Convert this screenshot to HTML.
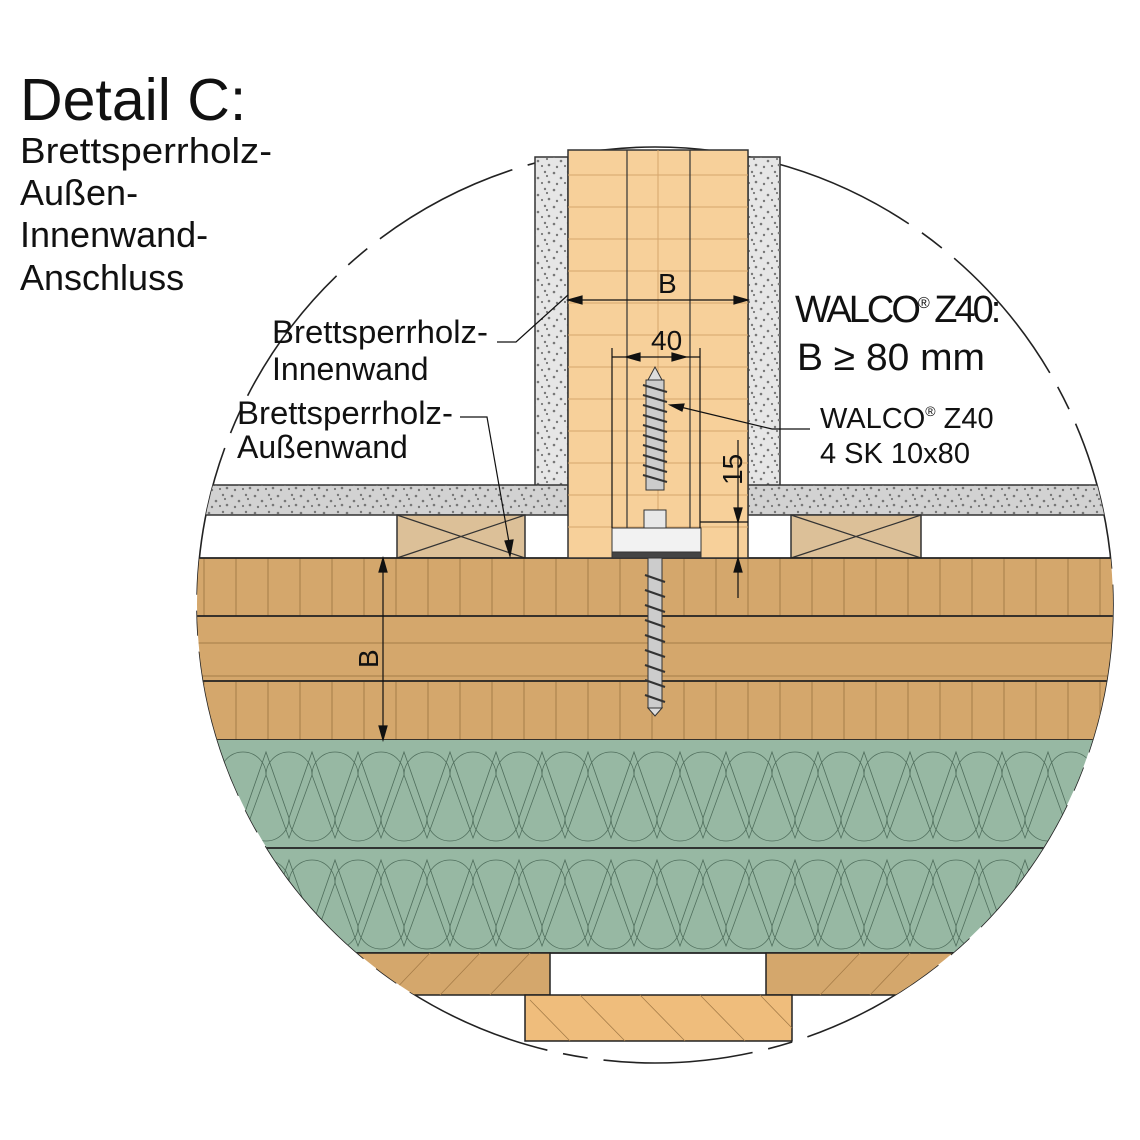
<!DOCTYPE html>
<html><head><meta charset="utf-8"><style>
body{margin:0;background:#fff}
svg{display:block}
text{font-family:"Liberation Sans",sans-serif;fill:#111}
</style></head><body>
<svg width="1140" height="1140" viewBox="0 0 1140 1140">
<defs>
<pattern id="dots" width="23" height="17" patternUnits="userSpaceOnUse">
<circle cx="2" cy="3" r="1.3" fill="#777"/><circle cx="9" cy="8" r="1.3" fill="#777"/>
<circle cx="16" cy="2" r="1.2" fill="#777"/><circle cx="20" cy="12" r="1.3" fill="#777"/>
<circle cx="5" cy="14" r="1.2" fill="#777"/><circle cx="13" cy="13" r="1.1" fill="#777"/>
<circle cx="18" cy="6" r="1.1" fill="#777"/>
</pattern>
<pattern id="ins" x="220" y="740" width="46" height="107" patternUnits="userSpaceOnUse">
<rect width="46" height="107" fill="#97b8a3"/>
<g fill="none" stroke="#4f6e5c" stroke-width="0.8">
<path d="M0,35 A23,23 0 0 1 46,35 L23,98 Z"/>
<path d="M-23,78 A23,23 0 0 0 23,78 L0,12 Z"/>
<path d="M23,78 A23,23 0 0 0 69,78 L46,12 Z"/>
<path d="M-46,35 A23,23 0 0 1 0,35 L-23,98 Z"/>
</g>
</pattern>
<pattern id="ins2" x="243" y="848" width="46" height="107" patternUnits="userSpaceOnUse">
<rect width="46" height="107" fill="#97b8a3"/>
<g fill="none" stroke="#4f6e5c" stroke-width="0.8">
<path d="M0,35 A23,23 0 0 1 46,35 L23,98 Z"/>
<path d="M-23,78 A23,23 0 0 0 23,78 L0,12 Z"/>
<path d="M23,78 A23,23 0 0 0 69,78 L46,12 Z"/>
<path d="M-46,35 A23,23 0 0 1 0,35 L-23,98 Z"/>
</g>
</pattern>
<clipPath id="cc"><circle cx="655" cy="605" r="458"/></clipPath>
</defs>

<circle cx="655" cy="605" r="458" fill="none" stroke="#222" stroke-width="1.6" stroke-dasharray="150,16,25,16"/>

<rect x="535" y="157" width="33" height="333" fill="#e6e6e6" stroke="#333" stroke-width="1.5"/>
<rect x="535" y="157" width="33" height="333" fill="url(#dots)"/>
<rect x="748" y="157" width="32" height="333" fill="#e6e6e6" stroke="#333" stroke-width="1.5"/>
<rect x="748" y="157" width="32" height="333" fill="url(#dots)"/>

<g clip-path="url(#cc)">
<rect x="190" y="485" width="378" height="30" fill="#d2d2d2" stroke="#333" stroke-width="1.5"/>
<rect x="190" y="485" width="378" height="30" fill="url(#dots)"/>
<rect x="748" y="485" width="362" height="30" fill="#d2d2d2" stroke="#333" stroke-width="1.5"/>
<rect x="748" y="485" width="362" height="30" fill="url(#dots)"/>
<g fill="#dcc098" stroke="#333" stroke-width="1.5">
<rect x="397" y="515" width="128" height="43"/><rect x="791" y="515" width="130" height="43"/>
</g>
<path d="M397,515L525,558M525,515L397,558M791,515L921,558M921,515L791,558" stroke="#333" stroke-width="1.2"/>
<path d="M1110,515V558" stroke="#333"/>
<rect x="190" y="558" width="928" height="182" fill="#d4a76c"/>
<g stroke="#a57c48" stroke-width="1">
<path id="vl" d="M204,558V616M236,558V616M268,558V616M300,558V616M332,558V616M364,558V616M396,558V616M428,558V616M460,558V616M492,558V616M524,558V616M556,558V616M588,558V616M620,558V616M652,558V616M684,558V616M716,558V616M748,558V616M780,558V616M812,558V616M844,558V616M876,558V616M908,558V616M940,558V616M972,558V616M1004,558V616M1036,558V616M1068,558V616M1100,558V616"/>
<use href="#vl" y="124"/>
<path d="M190,643H1118M190,676H1118"/>
</g>
<path d="M190,558H1118M190,616H1118M190,681H1118M190,740H1118" stroke="#222" stroke-width="1.8"/>
<rect x="190" y="740" width="928" height="108" fill="url(#ins)"/>
<rect x="190" y="848" width="928" height="105" fill="url(#ins2)"/>
<path d="M190,848H1118M190,953H1118" stroke="#222" stroke-width="1.8"/>
<g fill="#d4a76c" stroke="#222" stroke-width="1.5">
<rect x="190" y="953" width="360" height="42"/><rect x="766" y="953" width="360" height="42"/>
</g>
<rect x="525" y="995" width="267" height="46" fill="#efbd7c" stroke="#222" stroke-width="1.5"/>
<g stroke="#a57c48" stroke-width="0.8">
<path d="M390,995L430,953M440,995L480,953M490,995L530,953M820,995L860,953M870,995L910,953M920,995L960,953"/>
<path d="M530,1000L570,1041M580,995L625,1041M640,995L685,1041M700,995L745,1041M760,995L792,1028"/>
</g>
</g>

<rect x="568" y="150" width="180" height="408" fill="#f7d09a" stroke="#333" stroke-width="1.5"/>
<g stroke="#d6a66c" stroke-width="1">
<path d="M568,175H748M568,207H748M568,239H748M568,271H748M568,303H748M568,335H748M568,367H748M568,399H748M568,431H748M568,463H748M568,495H748M568,527H748"/>
<path d="M658,150V558"/>
</g>
<path d="M627,150V558M690,150V558" stroke="#333" stroke-width="1.2"/>

<g stroke="#333" stroke-width="1">
<rect x="644" y="510" width="22" height="20" fill="#e8e8e8"/>
<rect x="612" y="528" width="89" height="27" fill="#f2f2f2"/>
<rect x="612" y="552" width="89" height="6" fill="#444"/>
<path d="M648,380L655,367L662,380Z" fill="#ddd"/>
<rect x="646" y="380" width="18" height="110" fill="#ccc"/>
<rect x="648" y="558" width="14" height="150" fill="#ccc"/>
<path d="M648,708L655,716L662,708Z" fill="#ddd"/>
</g>
<g stroke="#333" stroke-width="2.2" fill="none">
<path d="M643,385L667,392M643,395L667,402M643,405L667,412M643,415L667,422M643,425L667,432M643,435L667,442M643,445L667,452M643,455L667,462M643,465L667,472M643,475L667,482"/>
<path d="M645,575L665,582M645,590L665,597M645,605L665,612M645,620L665,627M645,635L665,642M645,650L665,657M645,665L665,672M645,680L665,687M645,695L665,702"/>
</g>
<g stroke="#111" stroke-width="1.2" fill="#111">
<path d="M568,300H748"/><path d="M568,300l14,-4v8z"/><path d="M748,300l-14,-4v8z"/>
<path d="M612,348V528M700,348V528"/>
<path d="M612,357H700"/><path d="M626,357l14,-4v8z"/><path d="M686,357l-14,-4v8z"/>
<path d="M738,440V598M700,522H748"/><path d="M738,522l-4,-14h8z"/><path d="M738,558l-4,14h8z"/>
<path d="M383,558V740"/><path d="M383,558l-4,14h8z"/><path d="M383,740l-4,-14h8z"/>
<path d="M497,342H516L568,295" fill="none"/>
<path d="M460,417H487L510,548" fill="none"/><path d="M510,556l-5,-15 8,-1z"/>
<path d="M810,429L772,429L672,405" fill="none"/><path d="M670,405l14,-1 -2,7z"/>
</g>

<text x="20" y="120" font-size="59">Detail C:</text>
<g font-size="36">
<text x="20" y="163" textLength="252" lengthAdjust="spacingAndGlyphs">Brettsperrholz-</text>
<text x="20" y="205">Außen-</text>
<text x="20" y="247">Innenwand-</text>
<text x="20" y="290">Anschluss</text>
</g>
<g font-size="32">
<text x="272" y="343" textLength="216" lengthAdjust="spacingAndGlyphs">Brettsperrholz-</text>
<text x="272" y="380">Innenwand</text>
<text x="237" y="424" textLength="216" lengthAdjust="spacingAndGlyphs">Brettsperrholz-</text>
<text x="237" y="458">Außenwand</text>
</g>
<text x="658" y="293" font-size="28">B</text>
<text x="651" y="350" font-size="28">40</text>
<text x="0" y="0" font-size="28" transform="translate(742,485) rotate(-90)">15</text>
<text x="0" y="0" font-size="28" transform="translate(378,668) rotate(-90)">B</text>
<text x="795" y="322" font-size="38" letter-spacing="-3">WALCO<tspan font-size="16" dy="-14">®</tspan><tspan dy="14"> Z40:</tspan></text>
<text x="797" y="370" font-size="38" textLength="188" lengthAdjust="spacingAndGlyphs">B ≥ 80 mm</text>
<text x="820" y="428" font-size="29">WALCO<tspan font-size="14" dy="-12">®</tspan><tspan dy="12"> Z40</tspan></text>
<text x="820" y="463" font-size="29">4 SK 10x80</text>
</svg>
</body></html>
